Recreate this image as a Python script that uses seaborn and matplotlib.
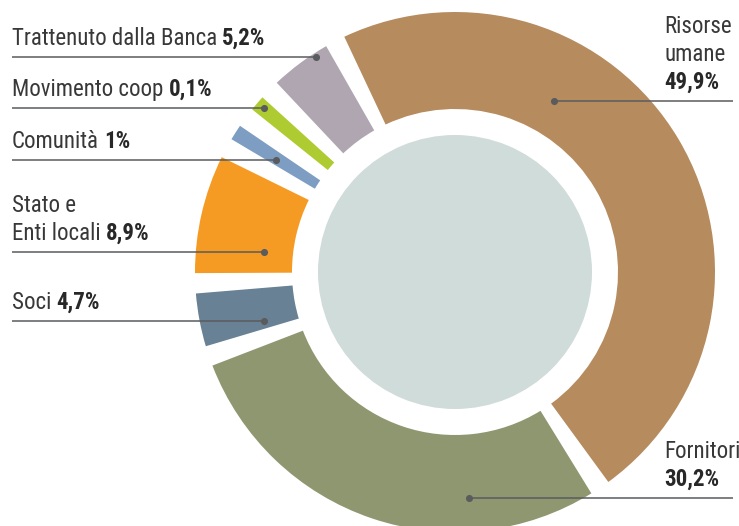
import matplotlib
matplotlib.use("Agg")
import matplotlib.pyplot as plt
from matplotlib import font_manager as fm
import numpy as np
import seaborn as sns

# ---- data ----
categories = ["Risorse umane", "Fornitori", "Soci", "Stato e Enti locali",
              "Comunità", "Movimento coop", "Trattenuto dalla Banca"]
values = [49.9, 30.2, 4.7, 8.9, 1.0, 0.1, 5.2]
value_labels = ["49,9%", "30,2%", "4,7%", "8,9%", "1%", "0,1%", "5,2%"]
label_text = ["Risorse\numane\n", "Fornitori\n", "Soci", "Stato e\nEnti locali",
              "Comunità", "Movimento coop", "Trattenuto dalla Banca"]
colors = ["#B68B5E", "#8F9771", "#688194", "#F59B23", "#7E9DC2", "#AFCB32", "#AFA6B1"]

# ---- layout (pixel coordinates, image y downwards) ----
W, H = 739, 526
label_side = ["right", "right", "left", "left", "left", "left", "left"]
leader_y = [101, 498, 321, 252, 160, 108, 57]
dot_x = [554, 469, 264, 264, 276, 264, 316]
text_x_right = 664
text_x_left = 12
line_x_left = 12
line_x_right = 733

sns.set_theme(style="white")
plt.rcParams['font.family'] = ['DejaVu Sans']


# ---- pick a condensed font if one is installed ----
def find_condensed():
    entries = fm.fontManager.ttflist
    def score(path):
        p = path.lower()
        if "italic" in p or "oblique" in p or "[" in p:
            return None
        if "semicondensed" in p or "semi condensed" in p:
            return 3
        if "extracondensed" in p or "extra condensed" in p or "ultracondensed" in p:
            return None
        if "condensed" in p:
            return 1
        if "narrow" in p:
            return 2
        return None
    groups = {}
    for f in entries:
        sc = score(f.fname)
        if sc is None:
            continue
        base = f.fname.lower().split("/")[-1]
        w = f.weight
        if isinstance(w, str):
            w = {"normal": 400, "regular": 400, "book": 400, "bold": 700}.get(w.lower(), 500)
        g = groups.setdefault((sc, f.name), {})
        if "bold" in base and "semibold" not in base and "extrabold" not in base and w >= 600:
            g.setdefault("bold", f.fname)
        elif not any(k in base for k in ["bold", "light", "thin", "black", "medium", "heavy"]):
            g.setdefault("regular", f.fname)
    pref = ["Roboto", "Open Sans", "Noto Sans", "Liberation", "DejaVu", "Lato", "Inter"]
    best = None
    for (sc, name), g in groups.items():
        if "regular" in g and "bold" in g:
            rank = next((i for i, p in enumerate(pref) if p.lower() in name.lower()), 99)
            k = (sc, rank)
            if best is None or k < best[0]:
                best = (k, g)
    return best[1] if best else None


cond = find_condensed()
if cond:
    fp_reg = fm.FontProperties(fname=cond["regular"])
    fp_bold = fm.FontProperties(fname=cond["bold"])
else:
    fp_reg = fm.FontProperties(family=["Roboto", "DejaVu Sans"])
    fp_bold = fm.FontProperties(family=["Roboto", "DejaVu Sans"], weight="bold")

fig = plt.figure(figsize=(W / 100, H / 100), dpi=100)
ax = fig.add_axes([0, 0, 1, 1])

cx, cy = 455, H - 272
r_out, r_in, r_core = 260, 163, 137
gap = 4.5          # angular white gap between slices (degrees)
min_span = 3.5     # smallest visible slice (degrees)

# each slice takes its share of the circle minus the gap; tiny slices get a minimum width
v = np.array(values, dtype=float)
n = len(v)
clamped = np.zeros(n, dtype=bool)
for _ in range(10):
    c = (360 - n * gap - clamped.sum() * min_span + (~clamped).sum() * gap) / v[~clamped].sum()
    new = v * c - gap < min_span
    if (new == clamped).all():
        break
    clamped = new
spans = np.where(clamped, min_span, v * c - gap)

sizes, cols = [], []
for s, col in zip(spans, colors):
    sizes += [s, gap]
    cols += [col, "none"]

ax.pie(sizes, colors=cols, startangle=115.2, counterclock=False,
       radius=r_out, center=(cx, cy),
       wedgeprops=dict(width=r_out - r_in, linewidth=0))
ax.pie([1], colors=["#CFDCDA"], radius=r_core, center=(cx, cy),
       wedgeprops=dict(linewidth=0))

ax.set_xlim(0, W)
ax.set_ylim(0, H)
ax.set_aspect("equal")
ax.axis("off")

reg_color = "#383838"
bold_color = "#282828"
line_color = "#5A5B5D"
line_h = 28

fig.canvas.draw()
renderer = fig.canvas.get_renderer()


def width_of(s, fp, size):
    t = ax.text(0, 0, s, fontproperties=fp, fontsize=size)
    w = t.get_window_extent(renderer).width
    t.remove()
    return w


space = 0.22
fs0 = 16.0
w0 = width_of("Trattenuto dalla Banca", fp_reg, fs0) + space * fs0 * 100 / 72 + \
    width_of("5,2%", fp_bold, fs0)
fs = min(16.5, fs0 * 264.0 / w0)

for i in range(n):
    ly = leader_y[i]
    side = label_side[i]
    tx = text_x_right if side == "right" else text_x_left
    lines = label_text[i].split("\n")
    m = len(lines)
    base_last = ly - 12
    for j, ln in enumerate(lines[:-1]):
        yb = base_last - (m - 1 - j) * line_h
        ax.text(tx, H - yb, ln, fontproperties=fp_reg, fontsize=fs, color=reg_color,
                ha="left", va="baseline")
    last = lines[-1]
    bx = tx
    if last.strip():
        t = ax.text(tx, H - base_last, last.strip(), fontproperties=fp_reg, fontsize=fs,
                    color=reg_color, ha="left", va="baseline")
        bb = t.get_window_extent(renderer)
        bx = bb.x1 + space * fs * 100 / 72
    ax.text(bx, H - base_last, value_labels[i], fontproperties=fp_bold, fontsize=fs,
            color=bold_color, ha="left", va="baseline")
    if side == "left":
        xs = [line_x_left, dot_x[i]]
    else:
        xs = [dot_x[i], line_x_right]
    ax.plot(xs, [H - ly, H - ly], color=line_color, lw=1.1, zorder=5,
            solid_capstyle="butt")
    ax.scatter([dot_x[i]], [H - ly], s=26, color=line_color, zorder=6, linewidths=0)

fig.savefig("out.png", dpi=100)
